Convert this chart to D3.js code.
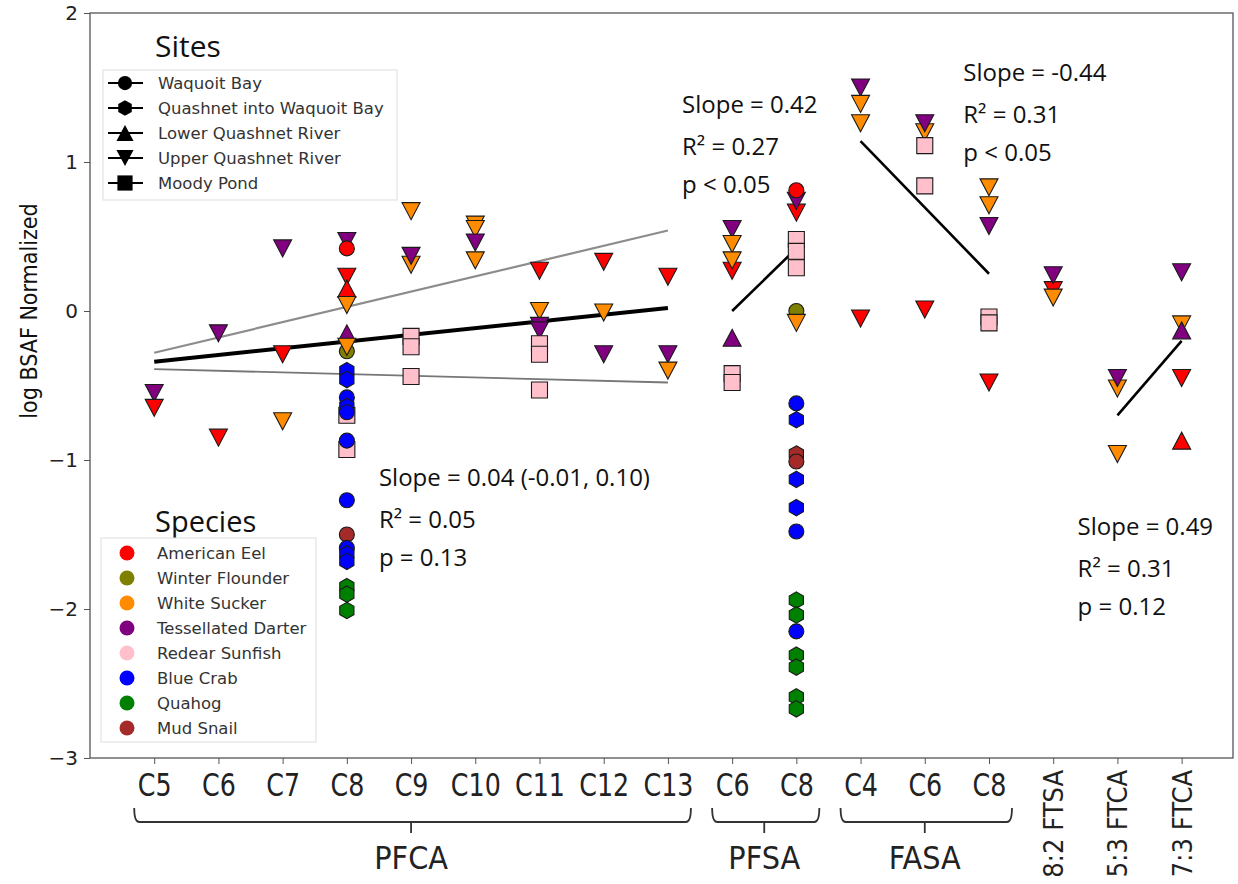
<html>
<head>
<script src="https://d3js.org/d3.v7.min.js"></script>
<style>
body { margin: 0; background: #fff; }
.cond { font-family: "Liberation Sans Narrow", "DejaVu Sans Condensed", "Roboto Condensed", sans-serif; }
.ann { font-family: "Open Sans", "Noto Sans", sans-serif; font-size: 24px; fill: #111; }
.leg { font-family: "DejaVu Sans", sans-serif; font-size: 16.5px; fill: #333; }
</style>
</head>
<body>
<svg width="1238" height="884"></svg>
<script>
// categories on the x axis, in order
var categories = ["C5","C6","C7","C8","C9","C10","C11","C12","C13",
                  "C6","C8","C4","C6","C8","8:2 FTSA","5:3 FTCA","7:3 FTCA"];
var rotatedLabels = [14, 15, 16];
var groupNames = ["PFCA", "PFSA", "FASA"];
var groupFrom  = [0, 9, 11];
var groupTo    = [8, 10, 13];

var yTicks = [-3, -2, -1, 0, 1, 2];

var species = ["American Eel","Winter Flounder","White Sucker","Tessellated Darter",
               "Redear Sunfish","Blue Crab","Quahog","Mud Snail"];
var speciesColors = ["#ff0000","#808000","#ff8c00","#800080","#ffc0cb","#0000ff","#008000","#a52a2a"];
var sites = ["Waquoit Bay","Quashnet into Waquoit Bay","Lower Quashnet River","Upper Quashnet River","Moody Pond"];
var siteShapes = ["circle","hexagon","up","down","square"];

// [category index, log BSAF, species index, site index]
var points = [
  [0,-0.55,3,3],[0,-0.65,0,3],
  [1,-0.15,3,3],[1,-0.85,0,3],
  [2,0.42,3,3],[2,-0.29,0,3],[2,-0.74,2,3],
  [3,0.47,3,3],[3,0.42,0,0],[3,0.23,0,3],[3,0.15,0,2],[3,0.04,2,3],[3,-0.15,3,2],
  [3,-0.27,1,0],[3,-0.24,2,3],
  [3,-0.70,4,4],[3,-0.40,5,1],[3,-0.46,5,1],[3,-0.58,5,0],[3,-0.64,5,1],[3,-0.68,5,0],
  [3,-0.93,4,4],[3,-0.87,5,0],[3,-1.27,5,0],[3,-1.50,7,0],
  [3,-1.59,5,0],[3,-1.63,5,1],[3,-1.68,5,1],[3,-1.85,6,1],[3,-1.90,6,1],[3,-2.01,6,1],
  [4,0.67,2,3],[4,0.31,2,3],[4,0.37,3,3],[4,-0.17,4,4],[4,-0.24,4,4],[4,-0.44,4,4],
  [5,0.58,2,3],[5,0.55,2,3],[5,0.46,3,3],[5,0.34,2,3],
  [6,0.27,0,3],[6,0.0,2,3],[6,-0.10,3,3],[6,-0.13,3,3],[6,-0.22,4,4],[6,-0.29,4,4],[6,-0.53,4,4],
  [7,0.33,0,3],[7,-0.01,2,3],[7,-0.29,3,3],
  [8,0.23,0,3],[8,-0.29,3,3],[8,-0.40,2,3],
  [9,0.55,3,3],[9,0.45,2,3],[9,0.27,0,3],[9,0.34,2,3],[9,-0.18,3,2],[9,-0.42,4,4],[9,-0.48,4,4],
  [10,0.66,0,3],[10,0.74,3,3],[10,0.81,0,0],[10,0.48,4,4],[10,0.40,4,4],[10,0.29,4,4],
  [10,0.0,1,0],[10,-0.08,2,3],[10,-0.62,5,0],[10,-0.73,5,1],
  [10,-0.96,7,1],[10,-1.01,7,0],[10,-1.13,5,1],[10,-1.32,5,1],[10,-1.48,5,0],
  [10,-1.94,6,1],[10,-2.04,6,1],[10,-2.15,5,0],[10,-2.31,6,1],[10,-2.39,6,1],[10,-2.59,6,1],[10,-2.67,6,1],
  [11,1.50,3,3],[11,1.39,2,3],[11,1.26,2,3],[11,-0.05,0,3],
  [12,1.20,2,3],[12,1.26,3,3],[12,1.11,4,4],[12,0.84,4,4],[12,0.01,0,3],
  [13,0.83,2,3],[13,0.71,2,3],[13,0.57,3,3],[13,-0.04,4,4],[13,-0.08,4,4],[13,-0.48,0,3],
  [14,0.14,0,3],[14,0.09,2,3],[14,0.24,3,3],
  [15,-0.52,2,3],[15,-0.45,3,3],[15,-0.96,2,3],
  [16,0.26,3,3],[16,-0.09,2,3],[16,-0.13,3,2],[16,-0.45,0,3],[16,-0.87,0,2]
];

// regression lines: x range (category index) and y values at the ends
var fitX0 = [0, 0, 0, 9, 11, 15];
var fitX1 = [8, 8, 8, 10, 13, 16];
var fitY0 = [-0.28, -0.39, -0.34, 0.00, 1.14, -0.70];
var fitY1 = [0.54, -0.48, 0.02, 0.42, 0.25, -0.20];
var fitKind = ["ciHigh", "ciLow", "fit", "fit", "fit", "fit"];

// statistics text blocks, anchored in data units
var statText = [
  ["Slope = 0.04 (-0.01, 0.10)", "R\u00b2 = 0.05", "p = 0.13"],
  ["Slope = 0.42", "R\u00b2 = 0.27", "p < 0.05"],
  ["Slope = -0.44", "R\u00b2 = 0.31", "p < 0.05"],
  ["Slope = 0.49", "R\u00b2 = 0.31", "p = 0.12"]
];
var statX = [3.5, 8.22, 12.6, 14.38];
var statY = [-1.12, 1.38, 1.60, -1.45];
var lineOffsets = [0, 42, 80];

var svg = d3.select("svg");
var plotL = 90, plotR = 1233, plotT = 13, plotB = 758;

var x = d3.scaleLinear().domain([-1, 16.8]).range([plotL, plotR]);
var y = d3.scaleLinear().domain([-3, 2]).range([plotB, plotT]);

function shapePath(kind, s) {
  s = s || 1;
  if (kind == "circle") return d3.symbol(d3.symbolCircle, Math.PI * 7.5 * 7.5 * s * s)();
  if (kind == "hexagon") {
    var r = 8.2 * s, p = [];
    for (var k = 0; k < 6; k++) {
      var a = (-90 + 60 * k) * Math.PI / 180;
      p.push([r * Math.cos(a), r * Math.sin(a)]);
    }
    return "M" + p.join("L") + "Z";
  }
  var w = 9 * s, h = 8.5 * s;
  if (kind == "up") return "M0," + (-h) + "L" + w + "," + h + "L" + (-w) + "," + h + "Z";
  if (kind == "down") return "M0," + h + "L" + w + "," + (-h) + "L" + (-w) + "," + (-h) + "Z";
  var q = 8 * s;
  return "M" + (-q) + "," + (-q) + "H" + q + "V" + q + "H" + (-q) + "Z";
}

// frame
svg.append("rect").attr("x", plotL).attr("y", plotT)
  .attr("width", plotR - plotL).attr("height", plotB - plotT)
  .attr("fill", "none").attr("stroke", "#555").attr("stroke-width", 1.3);

// y axis
var yAxis = svg.append("g").attr("transform", "translate(" + plotL + ",0)")
  .call(d3.axisLeft(y).tickValues(yTicks).tickSize(6).tickPadding(6)
    .tickFormat(function(d) { return d < 0 ? "\u2212" + (-d) : d; }));
yAxis.select(".domain").remove();
yAxis.selectAll("text").style("font-family", "DejaVu Sans, sans-serif").style("font-size", "20px").attr("fill", "#222");
yAxis.selectAll("line").attr("stroke", "#555");

svg.append("text").attr("class", "cond")
  .attr("transform", "translate(37," + y(0) + ") rotate(-90)")
  .attr("text-anchor", "middle").style("font-size", "23px").attr("fill", "#111")
  .text("log BSAF Normalized");

// x axis
var xAxis = svg.append("g").attr("transform", "translate(0," + plotB + ")")
  .call(d3.axisBottom(x).tickValues(d3.range(categories.length)).tickSize(6)
    .tickFormat(function(d) { return rotatedLabels.indexOf(d) >= 0 ? "" : categories[d]; }));
xAxis.select(".domain").remove();
xAxis.selectAll("line").attr("stroke", "#555");
xAxis.selectAll("text").attr("class", "cond").style("font-size", "32px").attr("fill", "#222")
  .attr("dy", "0.9em").attr("transform", "scale(0.88,1)");

rotatedLabels.forEach(function(i) {
  svg.append("text").attr("class", "cond")
    .attr("transform", "translate(" + (x(i) + 10) + "," + (plotB + 12) + ") rotate(-90)")
    .attr("text-anchor", "end").style("font-size", "27px").attr("fill", "#222")
    .text(categories[i]);
});

// group braces
groupNames.forEach(function(g, k) {
  var x0 = x(groupFrom[k]) - 20, x1 = x(groupTo[k]) + 23, xm = (x(groupFrom[k]) + x(groupTo[k])) / 2;
  var yb = 822;
  svg.append("path")
    .attr("d", "M" + x0 + "," + (yb - 14) + "Q" + x0 + "," + yb + " " + (x0 + 5) + "," + yb +
      "H" + (x1 - 5) + "Q" + x1 + "," + yb + " " + x1 + "," + (yb - 14) +
      "M" + xm + "," + yb + "V" + (yb + 11))
    .attr("fill", "none").attr("stroke", "#333").attr("stroke-width", 1.8);
  svg.append("text").attr("class", "cond").attr("x", xm).attr("y", 869)
    .attr("text-anchor", "middle").style("font-size", "32px").attr("fill", "#222").text(g);
});

// regression lines
fitKind.forEach(function(kind, k) {
  svg.append("line")
    .attr("x1", x(fitX0[k])).attr("y1", y(fitY0[k]))
    .attr("x2", x(fitX1[k])).attr("y2", y(fitY1[k]))
    .attr("stroke", kind == "ciHigh" ? "#8c8c8c" : kind == "ciLow" ? "#777" : "#000")
    .attr("stroke-width", kind == "ciHigh" ? 2.2 : kind == "ciLow" ? 1.8 : (k == 2 ? 4 : 2.6));
});

// points
svg.append("g").selectAll("path").data(points).enter().append("path")
  .attr("transform", function(d) { return "translate(" + x(d[0]) + "," + y(d[1]) + ")"; })
  .attr("d", function(d) { return shapePath(siteShapes[d[3]]); })
  .attr("fill", function(d) { return speciesColors[d[2]]; })
  .attr("stroke", "#1a1a1a").attr("stroke-width", 1.1);

// stats text
statText.forEach(function(lines, k) {
  lines.forEach(function(t, j) {
    svg.append("text").attr("class", "ann")
      .attr("x", x(statX[k])).attr("y", y(statY[k]) + lineOffsets[j] + 8)
      .text(t);
  });
});

// sites legend
svg.append("text").attr("x", 155).attr("y", 57).attr("class", "ann")
  .style("font-size", "30px").text("Sites");
svg.append("rect").attr("x", 103).attr("y", 70).attr("width", 294).attr("height", 130)
  .attr("fill", "#fff").attr("stroke", "#ddd");
sites.forEach(function(s, k) {
  var ly = 83 + k * 25;
  svg.append("line").attr("x1", 108).attr("x2", 143).attr("y1", ly).attr("y2", ly)
    .attr("stroke", "#000").attr("stroke-width", 2);
  svg.append("path").attr("transform", "translate(125," + ly + ")")
    .attr("d", shapePath(siteShapes[k], 0.95)).attr("fill", "#000");
  svg.append("text").attr("class", "leg").attr("x", 158).attr("y", ly + 6).text(s);
});

// species legend
svg.append("text").attr("x", 155).attr("y", 532).attr("class", "ann")
  .style("font-size", "29px").text("Species");
svg.append("rect").attr("x", 101).attr("y", 538).attr("width", 215).attr("height", 204)
  .attr("fill", "#fff").attr("stroke", "#ddd");
species.forEach(function(s, k) {
  var ly = 553 + k * 25;
  svg.append("circle").attr("cx", 127).attr("cy", ly).attr("r", 7.5).attr("fill", speciesColors[k]);
  svg.append("text").attr("class", "leg").attr("x", 157).attr("y", ly + 6).text(s);
});
</script>
</body>
</html>
